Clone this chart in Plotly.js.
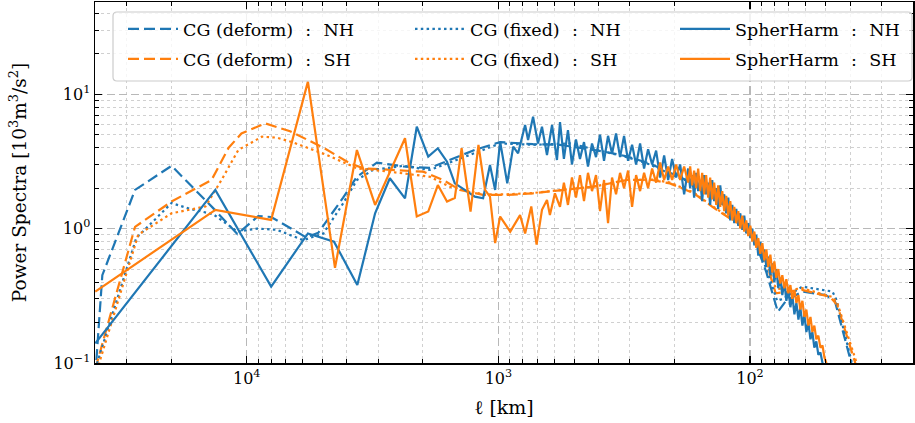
<!DOCTYPE html>
<html><head><meta charset="utf-8">
<script src="https://cdn.plot.ly/plotly-3.0.1.min.js"></script>
<style>html,body{margin:0;padding:0;background:#fff}#chart{width:915px;height:423px}</style>
</head><body><div id="chart"></div>
<script>
// ---- data: wavelength l [km] vs power spectra [10^3 m^3/s^2] ----
const cgDeformNH_x = [40000, 37500, 27800, 19900, 13600, 10900, 9000, 8000, 5800, 5200, 4140, 3650, 3040, 2390, 1870, 1560, 1240, 984, 728, 569, 383, 309, 250, 208, 167, 136, 120, 100, 86, 77.5, 72, 62, 50, 46, 39];
const cgDeformNH_y = [0.08, 0.45, 1.94, 2.93, 1.42, 0.91, 1.24, 1.22, 0.86, 0.93, 1.7, 2.43, 3.1, 2.9, 2.83, 3.24, 3.85, 4.4, 4.25, 4.2, 3.75, 3.45, 3.05, 2.6, 2.17, 1.68, 1.4, 1.02, 0.47, 0.24, 0.29, 0.34, 0.32, 0.29, 0.09];

const cgDeformSH_x = [40000, 27800, 19900, 13800, 11800, 10500, 8460, 6730, 4960, 3890, 3440, 2700, 1990, 1660, 1420, 1150, 920, 730, 533, 420, 309, 245, 208, 167, 141, 120, 100, 86, 79, 70, 62, 48, 45, 37.5];
const cgDeformSH_y = [0.09, 1.03, 1.59, 2.3, 4.0, 5.1, 6.07, 5.3, 4.0, 3.06, 2.81, 2.73, 2.65, 2.3, 1.94, 1.78, 1.78, 1.83, 1.94, 2.05, 2.3, 2.3, 2.17, 1.83, 1.45, 1.19, 0.98, 0.55, 0.33, 0.34, 0.35, 0.31, 0.27, 0.09];

const cgFixedNH_x = [40000, 27500, 19900, 16800, 13600, 10900, 9100, 7600, 5960, 4960, 4140, 3650, 3150, 2390, 1870, 1560, 1210, 984, 728, 520, 383, 309, 250, 208, 167, 136, 120, 100, 86, 78, 74, 62, 47, 45.5, 39.6, 38.8];
const cgFixedNH_y = [0.09, 0.85, 1.55, 1.4, 1.28, 0.95, 1.0, 0.98, 0.82, 0.92, 1.54, 2.3, 2.73, 2.93, 2.73, 3.1, 3.7, 4.3, 4.2, 4.3, 3.75, 3.4, 3.0, 2.55, 2.15, 1.63, 1.38, 1.0, 0.5, 0.29, 0.3, 0.37, 0.34, 0.3, 0.11, 0.09];

const cgFixedSH_x = [40000, 27000, 19900, 14600, 12600, 10800, 8700, 7600, 6600, 4800, 3650, 2700, 1870, 1560, 1150, 920, 730, 533, 420, 309, 245, 208, 167, 141, 120, 100, 86, 79, 70, 62, 47, 45, 37];
const cgFixedSH_y = [0.08, 0.9, 1.3, 1.46, 2.3, 3.85, 4.83, 4.75, 4.4, 3.53, 2.81, 2.65, 2.43, 2.05, 1.8, 1.8, 1.84, 1.95, 2.05, 2.3, 2.32, 2.2, 1.85, 1.47, 1.2, 0.99, 0.56, 0.36, 0.35, 0.36, 0.31, 0.28, 0.09];

const sphNH_x = [40000, 13333, 8000, 5714, 4500, 3636, 3090, 2700, 2350, 2110, 1900, 1740, 1600, 1490, 1360, 1240, 1150, 1080, 1030, 984, 922, 873, 835, 783, 762, 728, 696, 671, 641, 612, 585,
  569, 549, 529, 510, 491.6, 473.9, 456.8, 440.4, 424.5, 409.2, 394.5, 380.3, 366.6, 353.4, 340.7, 328.4, 316.6, 305.2, 294.2, 283.6, 273.4, 263.6, 254.1, 244.9, 236.1, 227.6, 219.4, 211.5, 203.9, 196.6, 189.5, 182.7,
  176.1, 172.9, 169.8, 166.7, 163.7, 160.7, 157.8, 154.9, 152.1, 149.4, 146.6, 144.0, 141.3, 138.8, 136.2, 133.8, 131.3, 128.9, 126.6, 124.3,
  122.0, 119.8, 117.6, 115.5, 113.4, 111.3, 109.3, 107.3, 105.4, 103.5, 101.6, 99.7, 97.9, 96.1, 94.4, 92.7, 91.0, 89.3, 87.7, 86.1,
  84.6, 83.0, 81.5, 80.0, 78.6, 77.2, 75.8, 74.4, 73.0, 71.7, 70.4, 69.1, 67.9, 66.6, 65.4, 64.2, 63.1, 61.9, 60.8, 59.7,
  58.6, 57.5, 56.5, 55.5, 54.5, 53.5, 52.5, 51.5, 50.6];
const sphNH_y = [0.14, 1.94, 0.37, 0.92, 0.80, 0.38, 1.30, 2.37, 1.68, 5.73, 3.43, 3.96, 3.15, 2.17, 1.94, 1.73, 1.68, 2.97, 1.94, 4.44, 2.17, 4.07, 3.63, 5.9, 4.56, 6.8, 4.3, 5.73, 3.53, 5.9, 3.24,
  6.2, 3.3, 5.4, 3.0, 4.6, 3.3, 4.4, 2.9, 4.3, 3.4, 5.0, 3.2, 4.9, 3.6, 5.1, 3.4, 4.9, 3.2, 4.2, 3.0, 4.3, 2.8, 3.9, 3.0, 3.8, 2.4, 3.5, 2.3, 3.3, 2.4, 3.0, 1.8,
  2.8, 2.0, 2.5, 1.7, 2.6, 1.9, 2.3, 1.6, 2.5, 1.8, 2.2, 1.5, 2.3, 1.6, 2.0, 1.4, 2.1, 1.5, 1.8, 1.3,
  1.7, 1.15, 1.5, 1.1, 1.4, 1.05, 1.3, 0.98, 1.25, 0.92, 1.1, 0.85, 1.0, 0.75, 0.9, 0.63, 0.8, 0.58, 0.7, 0.52,
  0.62, 0.45, 0.55, 0.4, 0.5, 0.36, 0.43, 0.32, 0.4, 0.29, 0.35, 0.26, 0.32, 0.23, 0.28, 0.21, 0.26, 0.19, 0.23, 0.17,
  0.2, 0.15, 0.17, 0.13, 0.145, 0.115, 0.12, 0.1, 0.095];

const sphSH_x = [40000, 13333, 8000, 5714, 4460, 3650, 3090, 2350, 2110, 1900, 1740, 1600, 1490, 1400, 1290, 1200, 1130, 1080, 1030, 984, 897, 820, 783, 740, 705, 671, 641, 624, 596,
  569, 549, 529, 510, 491.6, 473.9, 456.8, 440.4, 424.5, 409.2, 394.5, 380.3, 366.6, 353.4, 340.7, 328.4, 316.6, 305.2, 294.2, 283.6, 273.4, 263.6, 254.1, 244.9, 236.1, 227.6, 219.4, 211.5, 203.9, 196.6, 189.5, 182.7,
  176.1, 172.9, 169.8, 166.7, 163.7, 160.7, 157.8, 154.9, 152.1, 149.4, 146.6, 144.0, 141.3, 138.8, 136.2, 133.8, 131.3, 128.9, 126.6, 124.3,
  122.0, 119.8, 117.6, 115.5, 113.4, 111.3, 109.3, 107.3, 105.4, 103.5, 101.6, 99.7, 97.9, 96.1, 94.4, 92.7, 91.0, 89.3, 87.7, 86.1,
  84.6, 83.0, 81.5, 80.0, 78.6, 77.2, 75.8, 74.4, 73.0, 71.7, 70.4, 69.1, 67.9, 66.6, 65.4, 64.2, 63.1, 61.9, 60.8, 59.7,
  58.6, 57.5, 56.5, 55.5, 54.5, 53.5, 52.5, 51.5, 50.6, 49.7, 48.8];
const sphSH_y = [0.34, 1.38, 1.16, 12.4, 0.51, 3.84, 1.50, 4.7, 1.23, 1.34, 2.11, 1.59, 1.69, 3.96, 1.34, 4.19, 1.94, 1.73, 0.78, 1.23, 0.95, 1.26, 0.92, 1.46, 0.76, 1.38, 1.63, 1.26, 1.83,
  1.45, 2.2, 1.5, 2.4, 1.7, 2.5, 1.6, 2.6, 1.9, 2.5, 1.35, 2.3, 1.1, 2.4, 1.8, 2.6, 2.0, 2.7, 1.45, 2.5, 1.9, 2.6, 2.0, 2.8, 2.2, 3.1, 2.3, 2.9, 2.3, 3.0, 2.3, 2.9,
  2.2, 2.9, 2.1, 2.7, 2.0, 2.8, 1.9, 2.6, 1.8, 2.5, 1.7, 2.4, 1.65, 2.2, 1.5, 2.1, 1.45, 1.9, 1.35, 1.75,
  1.25, 1.6, 1.15, 1.45, 1.1, 1.35, 1.0, 1.25, 0.95, 1.15, 0.88, 1.05, 0.8, 0.95, 0.72, 0.85, 0.65, 0.78, 0.58, 0.7,
  0.52, 0.64, 0.47, 0.57, 0.43, 0.5, 0.39, 0.45, 0.36, 0.42, 0.33, 0.38, 0.3, 0.35, 0.28, 0.32, 0.25, 0.29, 0.22, 0.25,
  0.19, 0.22, 0.17, 0.19, 0.15, 0.16, 0.13, 0.135, 0.11, 0.1, 0.09];

const SEP = '\u2002\u2009:\u2002\u2009';
const seriesNames = ['CG (deform)' + SEP + 'NH', 'CG (deform)' + SEP + 'SH', 'CG (fixed)' + SEP + 'NH', 'CG (fixed)' + SEP + 'SH', 'SpherHarm' + SEP + 'NH', 'SpherHarm' + SEP + 'SH'];
const xTickVals = [10000, 1000, 100];
const xTickText = ['10<sup>4</sup>', '10<sup>3</sup>', '10<sup>2</sup>'];
const yTickVals = [0.1, 1, 10];
const yTickText = ['10<sup>\u22121</sup>', '10<sup>0</sup>', '10<sup>1</sup>'];

// ---- styling ----
const BLUE = '#1f77b4', ORANGE = '#ff7f0e';
const DASH = '11px,5px', DOT = '2.5px,3.3px';
const LW = 2.2;
const FONT = 'DejaVu Serif';
function tr(x, y, name, color, dash, leg) {
  return {x: x, y: y, name: name, type: 'scatter', mode: 'lines',
          line: {color: color, width: LW, dash: dash}, legend: leg, hoverinfo: 'skip'};
}
const data = [
  tr(cgDeformNH_x, cgDeformNH_y, seriesNames[0], BLUE, DASH, 'legend'),
  tr(cgDeformSH_x, cgDeformSH_y, seriesNames[1], ORANGE, DASH, 'legend2'),
  tr(cgFixedNH_x, cgFixedNH_y, seriesNames[2], BLUE, DOT, 'legend3'),
  tr(cgFixedSH_x, cgFixedSH_y, seriesNames[3], ORANGE, DOT, 'legend4'),
  tr(sphNH_x, sphNH_y, seriesNames[4], BLUE, 'solid', 'legend5'),
  tr(sphSH_x, sphSH_y, seriesNames[5], ORANGE, 'solid', 'legend6')
];

const L = 95, R = 2, T = 2, B = 60, WIDTH = 915, HEIGHT = 423;
const pw = WIDTH - L - R, ph = HEIGHT - T - B;
const px = v => (v - L) / pw;
const py = v => (HEIGHT - B - v) / ph;

function leg(xp, yp) {
  return {x: px(xp), y: py(yp), xanchor: 'left', yanchor: 'middle', bgcolor: 'rgba(0,0,0,0)',
          borderwidth: 0, font: {family: FONT, size: 17.5, color: '#000'}, itemwidth: 50};
}
const colX = [123, 410, 675], rowY = [29, 59];

const minorX = [30, 40, 50, 60, 70, 80, 90, 200, 300, 400, 500, 600, 700, 800, 900, 2000, 3000, 4000, 5000, 6000, 7000, 8000, 9000, 20000, 30000, 40000];
const minorY = [0.2, 0.3, 0.4, 0.5, 0.6, 0.7, 0.8, 0.9, 2, 3, 4, 5, 6, 7, 8, 9, 20, 30, 40];

const axisCommon = {
  type: 'log', ticks: 'inside', ticklen: 7, tickwidth: 1.2, tickcolor: '#000',
  showline: true, linecolor: '#000', linewidth: 1.5, mirror: 'allticks',
  showgrid: true, gridcolor: '#b8b8b8', griddash: '8px,4px', gridwidth: 1.2, zeroline: false,
  tickfont: {family: FONT, size: 16, color: '#000'}
};

// legend frame with slightly rounded corners (paper coordinates)
const bx0 = px(113), bx1 = px(912), by0 = py(81), by1 = py(12);
const rx = 4 / pw, ry = 4 / ph;
const framePath = `M${bx0 + rx},${by0} L${bx1 - rx},${by0} Q${bx1},${by0} ${bx1},${by0 + ry} L${bx1},${by1 - ry} Q${bx1},${by1} ${bx1 - rx},${by1} L${bx0 + rx},${by1} Q${bx0},${by1} ${bx0},${by1 - ry} L${bx0},${by0 + ry} Q${bx0},${by0} ${bx0 + rx},${by0} Z`;

const layout = {
  width: WIDTH, height: HEIGHT, margin: {l: L, r: R, t: T, b: B, autoexpand: false},
  paper_bgcolor: '#fff', plot_bgcolor: '#fff', showlegend: true,
  xaxis: Object.assign({}, axisCommon, {
    range: [Math.log10(40100), Math.log10(22.5)],
    tickvals: xTickVals, ticktext: xTickText,
    minor: {tickvals: minorX, ticks: 'inside', ticklen: 4, tickwidth: 1, tickcolor: '#000',
            showgrid: true, gridcolor: '#d0d0d0', griddash: 'dot', gridwidth: 1},
    title: {text: '\u2113 [km]', font: {family: FONT, size: 19, color: '#000'}, standoff: 14}
  }),
  yaxis: Object.assign({}, axisCommon, {
    range: [-1, 1.686],
    tickvals: yTickVals, ticktext: yTickText,
    minor: {tickvals: minorY, ticks: 'inside', ticklen: 4, tickwidth: 1, tickcolor: '#000',
            showgrid: true, gridcolor: '#d0d0d0', griddash: 'dot', gridwidth: 1},
    title: {text: 'Power Spectra [10<sup>3</sup>m<sup>3</sup>/s<sup>2</sup>]', font: {family: FONT, size: 18.5, color: '#000'}, standoff: 22}
  }),
  legend: leg(colX[0], rowY[0]), legend2: leg(colX[0], rowY[1]),
  legend3: leg(colX[1], rowY[0]), legend4: leg(colX[1], rowY[1]),
  legend5: leg(colX[2], rowY[0]), legend6: leg(colX[2], rowY[1]),
  shapes: [{type: 'path', xref: 'paper', yref: 'paper', path: framePath,
            line: {color: '#cccccc', width: 1.2}, fillcolor: 'rgba(255,255,255,0.8)', layer: 'above'}]
};

Plotly.newPlot('chart', data, layout, {staticPlot: true, displayModeBar: false});
</script></body></html>
